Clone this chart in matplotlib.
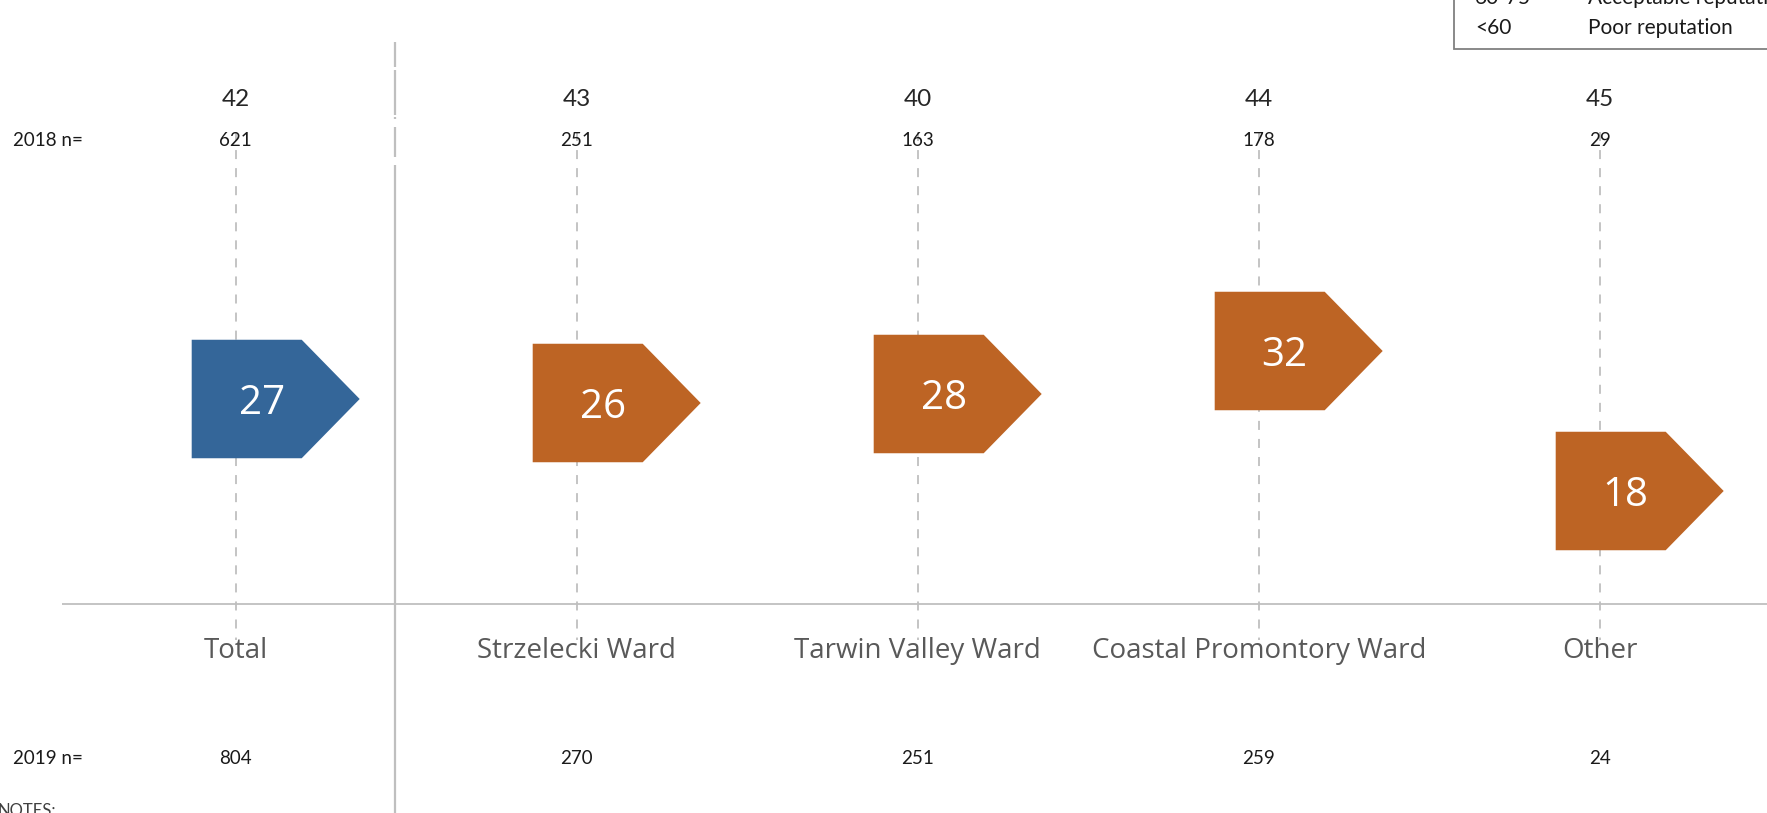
import matplotlib
matplotlib.use("Agg")
import matplotlib.pyplot as plt
from matplotlib.patches import Polygon, Rectangle

# ---- data ----
categories = ["Total", "Strzelecki Ward", "Tarwin Valley Ward",
              "Coastal Promontory Ward", "Other"]
score_2018 = [42, 43, 40, 44, 45]
n_2018 = [621, 251, 163, 178, 29]
score_2019 = [27, 26, 28, 32, 18]
n_2019 = [804, 270, 251, 259, 24]
arrow_level = [27.2, 26.8, 27.7, 32.0, 18.0]   # vertical level
legend_ranges = ["60-75", "<60"]
legend_labels = ["Acceptable reputation", "Poor reputation"]

# ---- layout ----
W, H = 1767, 813
fig = plt.figure(figsize=(W / 100, H / 100), dpi=100)
ax = fig.add_axes([0, 0, 1, 1])
ax.axis("off")

PX_X = 341.0          # pixels per category step
X0 = 235.7            # pixel x of first category
PX_Y = 10.0           # pixels per score unit
Y0 = 671.0            # pixel y (from top) of score 0

xmin = -X0 / PX_X
ax.set_xlim(xmin, xmin + W / PX_X)
ax.set_ylim((Y0 - H) / PX_Y, Y0 / PX_Y)


def fx(px):
    return xmin + px / PX_X


def fy(py):
    return (Y0 - py) / PX_Y


grey = "#bfbfbf"
blue = "#346699"
orange = "#BD6424"
xs = list(range(len(categories)))

# horizontal baseline
ax.plot([fx(62), fx(W + 5)], [fy(604.3), fy(604.3)], color=grey, lw=1.3,
        solid_capstyle="butt", zorder=1)

# vertical separator (segmented)
for a, b in [(42, 67), (70, 115), (117, 119), (127, 157), (165, 820)]:
    ax.plot([fx(395), fx(395)], [fy(a), fy(b)], color=grey, lw=1.6,
            solid_capstyle="butt", zorder=1)

# dashed guide lines
for x in xs:
    ax.plot([x, x], [fy(132), fy(640)], color=grey, lw=1.3,
            dashes=(5, 5), zorder=1)

# arrows
for x, lvl, s, i in zip(xs, arrow_level, score_2019, xs):
    left = x - 44 / PX_X
    rr = left + 110 / PX_X
    tip = rr + 58 / PX_X
    half = 59.25 / PX_Y
    col = blue if i == 0 else orange
    poly = Polygon([(left, lvl - half), (rr, lvl - half), (tip, lvl),
                    (rr, lvl + half), (left, lvl + half)], closed=True,
                   facecolor=col, edgecolor="none", zorder=3)
    ax.add_patch(poly)
    ax.text(left + 70 / PX_X, lvl, str(s), color="white", fontsize=29,
            family="Open Sans", ha="center", va="center_baseline", zorder=4)

# texts per category
for x, c, s18, n18, n19 in zip(xs, categories, score_2018, n_2018, n_2019):
    ax.text(x, fy(97), str(s18), fontsize=17.5, family="Lato", color="#262626",
            ha="center", va="center_baseline")
    ax.text(x, fy(139.5), str(n18), fontsize=13.5, family="Lato", color="#1a1a1a",
            ha="center", va="center_baseline")
    ax.text(x, fy(647), c, fontsize=20, family="Open Sans", color="#595959",
            ha="center", va="center_baseline")
    ax.text(x, fy(756.5), str(n19), fontsize=13.5, family="Lato", color="#1a1a1a",
            ha="center", va="center_baseline")

ax.text(fx(13), fy(139.5), "2018 n=", fontsize=13.5, family="Lato", color="#1a1a1a",
        ha="left", va="center_baseline")
ax.text(fx(13), fy(756.5), "2019 n=", fontsize=13.5, family="Lato", color="#1a1a1a",
        ha="left", va="center_baseline")

# notes (cut at bottom, as in the reference)
ax.text(fx(-3), fy(803), "NOTES:", fontsize=12, family="Lato", color="#404040",
        ha="left", va="top", clip_on=False)

# legend box (top right, partly cut as in the reference)
ax.add_patch(Rectangle((fx(1454), fy(49)), fx(1800) - fx(1454), fy(-60) - fy(49),
                       facecolor="white", edgecolor="#808080", lw=1.3, zorder=5,
                       clip_on=False))
for k, (r, l) in enumerate(zip(legend_ranges, legend_labels)):
    yy = 26 - 30 * (len(legend_ranges) - 1 - k)
    ax.text(fx(1475), fy(yy), r, fontsize=15, family="Lato", color="#1a1a1a",
            ha="left", va="center_baseline", zorder=6)
    ax.text(fx(1588), fy(yy), l, fontsize=15, family="Lato", color="#1a1a1a",
            ha="left", va="center_baseline", zorder=6)

fig.savefig("out.png", dpi=100)
